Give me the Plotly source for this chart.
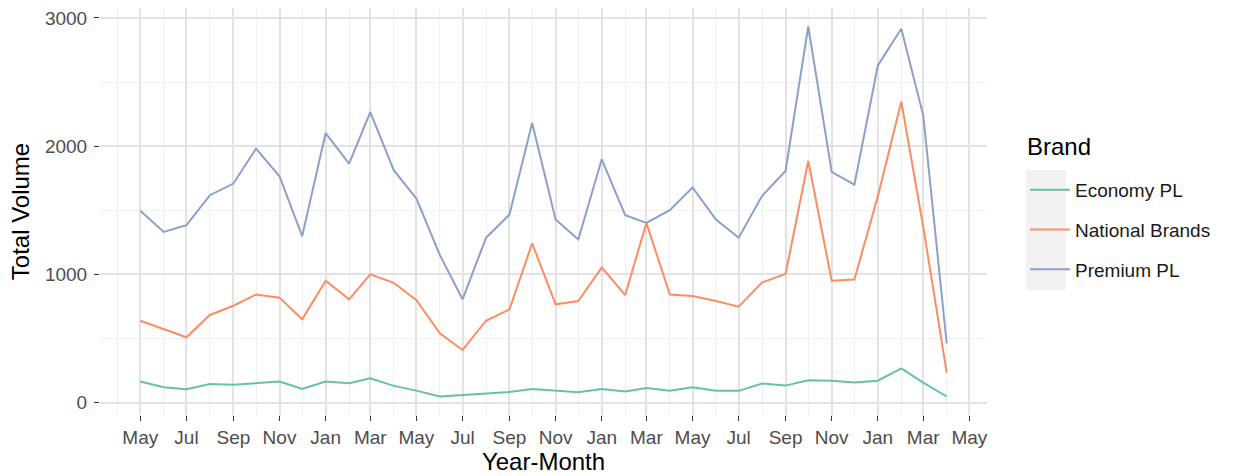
import pandas as pd
import plotly.graph_objects as go

months = pd.date_range("2017-05-01", "2020-04-01", freq="MS")

economy_pl = [164, 119, 104, 145, 138, 153, 164, 106, 164, 151, 189, 130,
              93, 47, 60, 73, 82, 106, 91, 80, 106, 86, 114, 91,
              119, 91, 91, 148, 132, 174, 169, 156, 170, 267, 156, 47]
national_brands = [638, 574, 509, 683, 755, 843, 818, 649, 950, 805, 1000, 934,
                   799, 540, 410, 638, 727, 1241, 766, 792, 1054, 838, 1401, 843,
                   831, 792, 747, 937, 1002, 1884, 950, 960, 1610, 2346, 1370, 234]
premium_pl = [1495, 1331, 1383, 1617, 1708, 1980, 1765, 1298, 2102, 1863, 2266, 1812,
              1591, 1150, 805, 1285, 1466, 2180, 1427, 1272, 1897, 1461, 1401, 1500,
              1677, 1427, 1285, 1612, 1806, 2933, 1799, 1700, 2629, 2915, 2240, 462]

series_names = ["Economy PL", "National Brands", "Premium PL"]
series_values = [economy_pl, national_brands, premium_pl]
colors = ["#66C2A5", "#FC8D62", "#8DA0CB"]

FONT = "Liberation Sans, Arial, Helvetica, sans-serif"

fig = go.Figure()
for name, vals, col in zip(series_names, series_values, colors):
    fig.add_trace(go.Scatter(x=months, y=vals, mode="lines", name=name,
                             legendgroup=name,
                             line=dict(color=col, width=2)))

# ggplot-like 5% expansion
x0, x1 = months[0], months[-1]
span = x1 - x0
xr = [x0 - span * 0.05, x1 + span * 0.05]
allv = economy_pl + national_brands + premium_pl
vmin, vmax = min(allv), max(allv)
yr = [vmin - 0.05 * (vmax - vmin), vmax + 0.05 * (vmax - vmin)]

PL, PR, PT, PB = 100, 987, 8, 415
PW, PH = PR - PL, PB - PT

def px(x):
    return (x - PL) / PW

def py(y):
    return (PB - y) / PH

fig.update_layout(
    width=1240, height=476,
    margin=dict(l=PL, r=1240 - PR, t=PT, b=476 - PB),
    paper_bgcolor="white", plot_bgcolor="white",
    font=dict(family=FONT, color="#4D4D4D", size=19),
    legend=dict(
        x=px(1025), y=py(171), xanchor="left", yanchor="top",
        bgcolor="rgba(0,0,0,0)",
        font=dict(size=19, color="#1A1A1A"),
        tracegroupgap=12,
        itemwidth=40,
    ),
    xaxis=dict(
        range=xr, type="date", automargin=False,
        tick0="2017-05-01", dtick="M2", tickformat="%b",
        ticks="outside", ticklen=5, tickwidth=1.3, tickcolor="#333333",
        showgrid=True, gridcolor="#E3E3E3", gridwidth=1.5,
        minor=dict(dtick="M1", showgrid=True, gridcolor="#F0F0F0", gridwidth=1),
        zeroline=False, showline=False,
        tickfont=dict(size=19, color="#4D4D4D"),
        title=dict(text="Year-Month", font=dict(size=24, color="black"), standoff=4),
    ),
    yaxis=dict(
        range=yr, tickvals=[0, 1000, 2000, 3000], automargin=False,
        ticks="outside", ticklen=5, tickwidth=1.3, tickcolor="#333333",
        ticklabelstandoff=3,
        showgrid=True, gridcolor="#E3E3E3", gridwidth=1.5,
        minor=dict(tickvals=[500, 1500, 2500], showgrid=True, gridcolor="#F0F0F0", gridwidth=1),
        zeroline=False, showline=False,
        tickfont=dict(size=19, color="#4D4D4D"),
        title=dict(text="Total Volume", font=dict(size=24, color="black"), standoff=8),
    ),
)

# legend title (ggplot style, set apart from the keys)
fig.add_annotation(text="Brand", xref="paper", yref="paper",
                   x=px(1025), y=py(146), xanchor="left", yanchor="middle",
                   showarrow=False, font=dict(size=24, color="black", family=FONT))

# grey legend-key background (ggplot style)
fig.add_shape(type="rect", xref="paper", yref="paper",
              x0=px(1026), x1=px(1066), y0=py(290), y1=py(170),
              fillcolor="#F2F2F2", line=dict(width=0), layer="below")

fig.write_html("out.html",
               config={"displayModeBar": False},
               post_script="document.body.style.margin='0';document.body.style.overflow='hidden';")
